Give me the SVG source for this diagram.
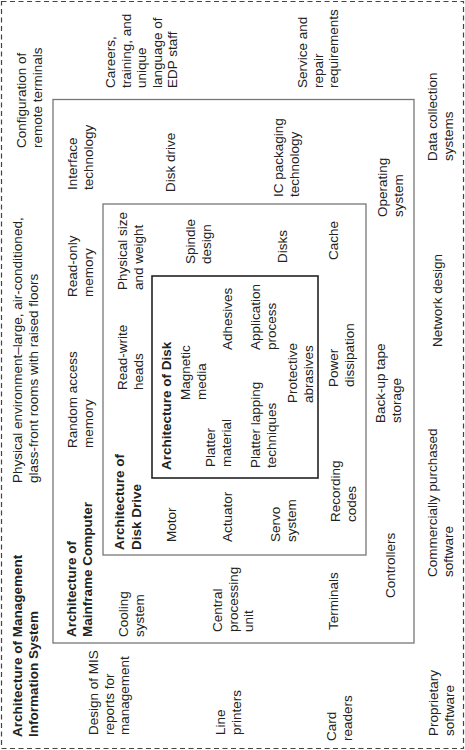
<svg xmlns="http://www.w3.org/2000/svg" width="465" height="750" viewBox="0 0 465 750">
<style>
text{font-family:"Liberation Sans",Arial,sans-serif;font-size:13.5px;fill:#222}
.b{font-weight:bold}
.frame{fill:none;stroke:#444;stroke-width:1.2;stroke-dasharray:5,3.5}
.gbox{fill:none;stroke:#777;stroke-width:1.3}
.kbox{fill:none;stroke:#222;stroke-width:1.6}
</style>
<rect width="465" height="750" fill="#fff"/>
<g id="mis">
<rect class="frame" x="1.5" y="1.5" width="462" height="747"/>
<text class="b" transform="translate(22,737) rotate(-90)"><tspan x="0">Architecture of Management</tspan><tspan x="0" dy="16">Information System</tspan></text>
</g>
<g id="physical-env"><text transform="translate(22,483) rotate(-90)"><tspan x="0">Physical environment–large, air-conditioned,</tspan><tspan x="0" dy="15.6">glass-front rooms with raised floors</tspan></text></g>
<g id="config-remote"><text transform="translate(26,148) rotate(-90)"><tspan x="0">Configuration of</tspan><tspan x="0" dy="15.6">remote terminals</tspan></text></g>
<g id="careers"><text transform="translate(115,88) rotate(-90)"><tspan x="0">Careers,</tspan><tspan x="0" dy="15.6">training, and</tspan><tspan x="0" dy="15.6">unique</tspan><tspan x="0" dy="15.6">language of</tspan><tspan x="0" dy="15.6">EDP staff</tspan></text></g>
<g id="service"><text transform="translate(307,88) rotate(-90)"><tspan x="0">Service and</tspan><tspan x="0" dy="15.6">repair</tspan><tspan x="0" dy="15.6">requirements</tspan></text></g>
<g id="data-collection"><text transform="translate(437,161) rotate(-90)"><tspan x="0">Data collection</tspan><tspan x="0" dy="15.6">systems</tspan></text></g>
<g id="network"><text transform="translate(442,347) rotate(-90)">Network design</text></g>
<g id="commercial-sw"><text transform="translate(437,577) rotate(-90)"><tspan x="0">Commercially purchased</tspan><tspan x="0" dy="15.6">software</tspan></text></g>
<g id="proprietary-sw"><text transform="translate(438,736) rotate(-90)"><tspan x="0">Proprietary</tspan><tspan x="0" dy="15.6">software</tspan></text></g>
<g id="mis-reports"><text transform="translate(98,735) rotate(-90)"><tspan x="0">Design of MIS</tspan><tspan x="0" dy="15.6">reports for</tspan><tspan x="0" dy="15.6">management</tspan></text></g>
<g id="line-printers"><text transform="translate(225,735) rotate(-90)"><tspan x="0">Line</tspan><tspan x="0" dy="15.6">printers</tspan></text></g>
<g id="card-readers"><text transform="translate(336,741) rotate(-90)"><tspan x="0">Card</tspan><tspan x="0" dy="15.6">readers</tspan></text></g>

<g id="mainframe">
<rect class="gbox" x="53" y="99.5" width="361" height="543.5"/>
<text class="b" transform="translate(76,637) rotate(-90)"><tspan x="0">Architecture of</tspan><tspan x="0" dy="16">Mainframe Computer</tspan></text>
</g>
<g id="cooling"><text transform="translate(128,637) rotate(-90)"><tspan x="0">Cooling</tspan><tspan x="0" dy="15.6">system</tspan></text></g>
<g id="ram"><text transform="translate(77,448) rotate(-90)"><tspan x="0">Random access</tspan><tspan x="0" dy="15.6">memory</tspan></text></g>
<g id="rom"><text transform="translate(77,297) rotate(-90)"><tspan x="0">Read-only</tspan><tspan x="0" dy="15.6">memory</tspan></text></g>
<g id="interface"><text transform="translate(77,190) rotate(-90)"><tspan x="0">Interface</tspan><tspan x="0" dy="15.6">technology</tspan></text></g>
<g id="disk-drive-item"><text transform="translate(175,192) rotate(-90)">Disk drive</text></g>
<g id="ic-packaging"><text transform="translate(283,197) rotate(-90)"><tspan x="0">IC packaging</tspan><tspan x="0" dy="15.6">technology</tspan></text></g>
<g id="os"><text transform="translate(387,217) rotate(-90)"><tspan x="0">Operating</tspan><tspan x="0" dy="15.6">system</tspan></text></g>
<g id="backup"><text transform="translate(385,423) rotate(-90)"><tspan x="0">Back-up tape</tspan><tspan x="0" dy="15.6">storage</tspan></text></g>
<g id="controllers"><text transform="translate(395,598) rotate(-90)">Controllers</text></g>
<g id="terminals"><text transform="translate(338,630) rotate(-90)">Terminals</text></g>
<g id="cpu"><text transform="translate(222,632) rotate(-90)"><tspan x="0">Central</tspan><tspan x="0" dy="15.6">processing</tspan><tspan x="0" dy="15.6">unit</tspan></text></g>

<g id="diskdrive">
<rect class="gbox" x="103" y="204" width="263" height="351"/>
<text class="b" transform="translate(124,550) rotate(-90)"><tspan x="0">Architecture of</tspan><tspan x="0" dy="16.5">Disk Drive</tspan></text>
</g>
<g id="motor"><text transform="translate(176,542) rotate(-90)">Motor</text></g>
<g id="actuator"><text transform="translate(232,542) rotate(-90)">Actuator</text></g>
<g id="servo"><text transform="translate(280,542) rotate(-90)"><tspan x="0">Servo</tspan><tspan x="0" dy="15.6">system</tspan></text></g>
<g id="recording"><text transform="translate(340,522) rotate(-90)"><tspan x="0">Recording</tspan><tspan x="0" dy="15.6">codes</tspan></text></g>
<g id="rw-heads"><text transform="translate(127,390) rotate(-90)"><tspan x="0">Read-write</tspan><tspan x="0" dy="15.6">heads</tspan></text></g>
<g id="phys-size"><text transform="translate(127,290) rotate(-90)"><tspan x="0">Physical size</tspan><tspan x="0" dy="15.6">and weight</tspan></text></g>
<g id="spindle"><text transform="translate(195,264) rotate(-90)"><tspan x="0">Spindle</tspan><tspan x="0" dy="15.6">design</tspan></text></g>
<g id="disks"><text transform="translate(287,263) rotate(-90)">Disks</text></g>
<g id="cache"><text transform="translate(338,260) rotate(-90)">Cache</text></g>
<g id="power"><text transform="translate(338,387) rotate(-90)"><tspan x="0">Power</tspan><tspan x="0" dy="15.6">dissipation</tspan></text></g>

<g id="disk">
<rect class="kbox" x="152" y="276" width="166" height="202"/>
<text class="b" transform="translate(171,470) rotate(-90)">Architecture of Disk</text>
</g>
<g id="magnetic"><text transform="translate(190,400) rotate(-90)"><tspan x="0">Magnetic</tspan><tspan x="0" dy="15.6">media</tspan></text></g>
<g id="platter-mat"><text transform="translate(215,467) rotate(-90)"><tspan x="0">Platter</tspan><tspan x="0" dy="15.6">material</tspan></text></g>
<g id="adhesives"><text transform="translate(232,350) rotate(-90)">Adhesives</text></g>
<g id="lapping"><text transform="translate(260,468) rotate(-90)"><tspan x="0">Platter lapping</tspan><tspan x="0" dy="15.6">techniques</tspan></text></g>
<g id="application"><text transform="translate(260,350) rotate(-90)"><tspan x="0">Application</tspan><tspan x="0" dy="15.6">process</tspan></text></g>
<g id="protective"><text transform="translate(297,403) rotate(-90)"><tspan x="0">Protective</tspan><tspan x="0" dy="15.6">abrasives</tspan></text></g>
<g id="connectors"></g>
</svg>
